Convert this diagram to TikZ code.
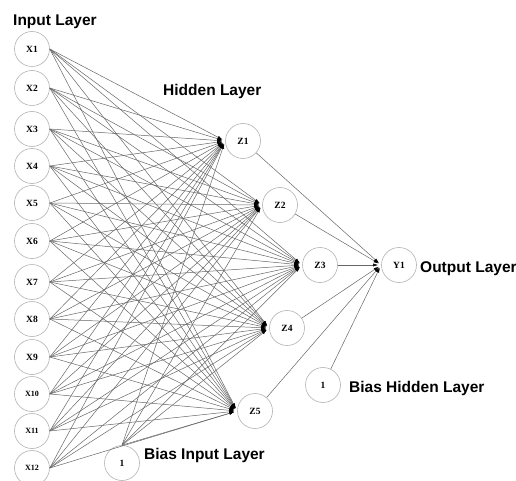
\documentclass[tikz,border=0pt]{standalone}
\usepackage{fontspec}
\setmainfont{Liberation Serif}
\setsansfont{Liberation Sans}
\usetikzlibrary{calc,arrows.meta}

\tikzset{
  neuron/.style={circle, draw=gray!60, line width=0.6pt, minimum size=35pt, inner sep=0pt,
    font=\fontsize{9.5}{9.5}\selectfont\bfseries},
  layer/.style={anchor=base west, inner sep=0pt, font=\sffamily\bfseries\fontsize{15.5}{15.5}\selectfont},
  synapse/.style={draw=black!60, line width=0.5pt, shorten >=3pt,
    -{Latex[length=5pt,width=3pt,black]}},
}

\begin{document}
\begin{tikzpicture}[x=1pt,y=-1pt]
  \useasboundingbox (0,0) rectangle (516,481);

  % input layer
  \foreach \n/\h in {1/49,2/88,3/129,4/166,5/203,6/241,7/282,8/319,9/357}
    \node[neuron] (x\n) at (32,\h) {X\n};
  \foreach \n/\h in {10/394,11/431,12/468}
    \node[neuron, font=\fontsize{8}{8}\selectfont\bfseries] (x\n) at (32,\h) {X\n};
  \node[neuron] (b1) at (122,463) {1};

  % hidden layer
  \node[neuron] (z1) at (243,141) {Z1};
  \node[neuron] (z2) at (280,205) {Z2};
  \node[neuron] (z3) at (320,265) {Z3};
  \node[neuron] (z4) at (287,328) {Z4};
  \node[neuron] (z5) at (255,411) {Z5};
  \node[neuron] (b2) at (323,385) {1};

  % output layer
  \node[neuron] (y1) at (399,265) {Y1};

  % labels
  \node[layer] (lin) at (13,26) {Input Layer};
  \node[layer] (lhid) at (163,96) {Hidden Layer};
  \node[layer] (lout) at (420,272) {Output Layer};
  \node[layer] (lbh) at (349,392) {Bias Hidden Layer};
  \node[layer] (lbi) at (144,459) {Bias Input Layer};

  % weights
  \foreach \i in {1,...,12}
    \foreach \j in {1,...,5}
      \draw[synapse] (x\i.east) -- (z\j.west);
  \foreach \j in {1,...,5}
    \draw[synapse] (b1.north) -- (z\j.west);
  \foreach \j in {1,...,5}
    \draw[synapse] (z\j) -- (y1.west);
  \draw[synapse] (b2) -- (y1.west);
\end{tikzpicture}
\end{document}
